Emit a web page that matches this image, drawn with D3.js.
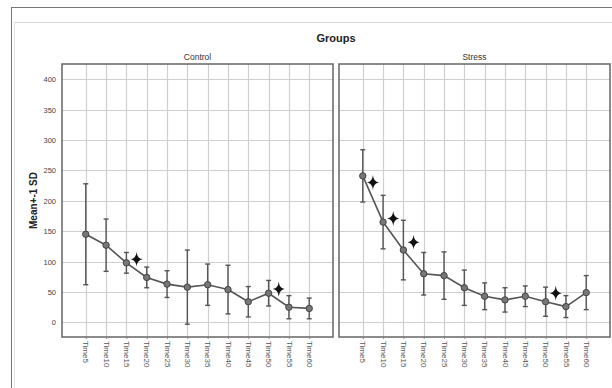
<!DOCTYPE html>
<html>
<head>
<meta charset="utf-8">
<script src="https://d3js.org/d3.v7.min.js"></script>
<style>
  body { margin: 0; background: #fff; font-family: "Liberation Sans", Arial, sans-serif; }
  svg { display: block; }
</style>
</head>
<body>
<svg width="612" height="388"></svg>
<script>
// data
const times = ["Time5","Time10","Time15","Time20","Time25","Time30","Time35","Time40","Time45","Time50","Time55","Time60"];
const groups = ["Control", "Stress"];
const controlMean = [145, 127, 98, 74, 63, 58, 62, 54, 34, 48, 25, 23];
const controlSD   = [83, 43, 17, 17, 22, 61, 34, 40, 25, 21, 19, 17];
const stressMean  = [241, 165, 119, 80, 77, 57, 43, 37, 43, 34, 26, 49];
const stressSD    = [43, 44, 49, 35, 39, 29, 22, 20, 17, 24, 18, 28];
const yTicks = [0, 50, 100, 150, 200, 250, 300, 350, 400];
// significance stars: placed half a step after the named time
const stars = [
  { group: "Control", after: "Time15", y: 104 },
  { group: "Control", after: "Time50", y: 55 },
  { group: "Stress", after: "Time5", y: 230 },
  { group: "Stress", after: "Time10", y: 171 },
  { group: "Stress", after: "Time15", y: 132 },
  { group: "Stress", after: "Time50", y: 48 }
];

const series = {
  Control: times.map((t, i) => ({ t, m: controlMean[i], sd: controlSD[i] })),
  Stress: times.map((t, i) => ({ t, m: stressMean[i], sd: stressSD[i] }))
};

const svg = d3.select("svg");
const plotTop = 64, plotBottom = 337;
const panels = { Control: [62, 333], Stress: [339, 610] };

// outer frame
svg.append("line").attr("x1", 11).attr("x2", 612).attr("y1", 7.5).attr("y2", 7.5).attr("stroke", "#777");
svg.append("line").attr("x1", 11.5).attr("x2", 11.5).attr("y1", 7).attr("y2", 388).attr("stroke", "#777");
svg.append("line").attr("x1", 14).attr("x2", 612).attr("y1", 22.5).attr("y2", 22.5).attr("stroke", "#d4d4d4");
svg.append("line").attr("x1", 14.5).attr("x2", 14.5).attr("y1", 22).attr("y2", 388).attr("stroke", "#e4e4e4");

svg.append("text").attr("x", 336).attr("y", 42).attr("text-anchor", "middle")
  .attr("font-size", 11).attr("font-weight", "bold").attr("fill", "#222").text("Groups");

const y = d3.scaleLinear().domain([-24, 425]).range([plotBottom, plotTop]);

// y axis
const yAxis = svg.append("g").attr("transform", `translate(${panels.Control[0]},0)`)
  .call(d3.axisLeft(y).tickValues(yTicks).tickSize(0).tickPadding(6));
yAxis.select(".domain").remove();
yAxis.selectAll("text").attr("font-size", 7.5).attr("fill", "#444")
  .attr("font-family", "Liberation Sans, Arial, sans-serif");

svg.append("text").attr("transform", `translate(37,${(plotTop + plotBottom) / 2}) rotate(-90)`)
  .attr("text-anchor", "middle").attr("font-size", 10).attr("font-weight", "bold")
  .attr("fill", "#222").text("Mean+-1 SD");

const star = "M0,-7.5 Q0.6,-0.6 6,0 Q0.6,0.6 0,7.5 Q-0.6,0.6 -6,0 Q-0.6,-0.6 0,-7.5Z";

groups.forEach(gname => {
  const [x0, x1] = panels[gname];
  const x = d3.scalePoint().domain(times).range([x0, x1]).padding(1.17);
  const g = svg.append("g");

  g.append("text").attr("x", (x0 + x1) / 2).attr("y", 60).attr("text-anchor", "middle")
    .attr("font-size", 8.5).attr("fill", "#333").text(gname);

  // grid
  g.append("g").selectAll("line").data(yTicks).join("line")
    .attr("x1", x0).attr("x2", x1).attr("y1", d => Math.round(y(d)) + 0.5).attr("y2", d => Math.round(y(d)) + 0.5)
    .attr("stroke", "#cfcfcf").attr("stroke-width", 1.2);
  g.append("g").selectAll("line").data(times).join("line")
    .attr("x1", d => Math.round(x(d)) + 0.5).attr("x2", d => Math.round(x(d)) + 0.5)
    .attr("y1", plotTop).attr("y2", plotBottom)
    .attr("stroke", "#cfcfcf").attr("stroke-width", 1.2);

  // frame
  g.append("rect").attr("x", x0).attr("y", plotTop).attr("width", x1 - x0).attr("height", plotBottom - plotTop)
    .attr("fill", "none").attr("stroke", "#666").attr("stroke-width", 1.5);

  // x axis labels
  const xAxis = g.append("g").attr("transform", `translate(0,${plotBottom})`)
    .call(d3.axisBottom(x).tickSize(2).tickPadding(0));
  xAxis.select(".domain").remove();
  xAxis.selectAll(".tick line").attr("stroke", "#888");
  xAxis.selectAll("text").attr("font-size", 8).attr("fill", "#555")
    .attr("font-family", "Liberation Sans, Arial, sans-serif")
    .attr("text-anchor", "start")
    .attr("transform", "rotate(90)").attr("x", 4).attr("y", 0).attr("dy", "0.35em");

  const data = series[gname];

  // error bars
  const eb = g.append("g").attr("stroke", "#555").attr("stroke-width", 1.4);
  eb.selectAll(".v").data(data).join("line")
    .attr("x1", d => x(d.t)).attr("x2", d => x(d.t))
    .attr("y1", d => y(d.m + d.sd)).attr("y2", d => y(d.m - d.sd));
  eb.selectAll(".cu").data(data).join("line")
    .attr("x1", d => x(d.t) - 2.5).attr("x2", d => x(d.t) + 2.5)
    .attr("y1", d => y(d.m + d.sd)).attr("y2", d => y(d.m + d.sd));
  eb.selectAll(".cl").data(data).join("line")
    .attr("x1", d => x(d.t) - 2.5).attr("x2", d => x(d.t) + 2.5)
    .attr("y1", d => y(d.m - d.sd)).attr("y2", d => y(d.m - d.sd));

  // mean line + points
  g.append("path").datum(data)
    .attr("d", d3.line().x(d => x(d.t)).y(d => y(d.m)))
    .attr("fill", "none").attr("stroke", "#555").attr("stroke-width", 1.6);
  g.append("g").selectAll("circle").data(data).join("circle")
    .attr("cx", d => x(d.t)).attr("cy", d => y(d.m)).attr("r", 3.2)
    .attr("fill", "#777").attr("stroke", "#444").attr("stroke-width", 1);

  // stars
  g.append("g").selectAll("path").data(stars.filter(s => s.group === gname)).join("path")
    .attr("d", star)
    .attr("transform", s => `translate(${x(s.after) + x.step() / 2},${y(s.y)})`)
    .attr("fill", "#111");
});
</script>
</body>
</html>
